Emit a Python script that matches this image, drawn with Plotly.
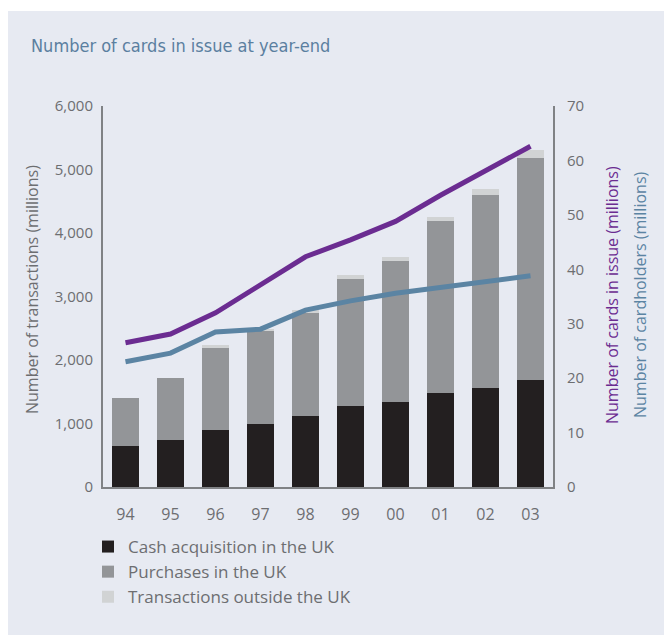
import plotly.graph_objects as go

# Year labels (two-digit)
years = ["94", "95", "96", "97", "98", "99", "00", "01", "02", "03"]

# Transactions, millions (stacked bars)
cash_uk = [640, 740, 900, 990, 1120, 1275, 1340, 1480, 1560, 1685]
purchases_uk = [760, 975, 1290, 1467, 1620, 2001, 2219, 2709, 3038, 3496]
outside_uk = [0, 0, 47, 35, 47, 63, 63, 63, 95, 126]

# Cards and cardholders, millions (right axis)
cards_in_issue = [26.5, 28.1, 32.0, 37.1, 42.3, 45.4, 48.8, 53.6, 58.2, 62.6]
cardholders = [23.0, 24.6, 28.5, 29.0, 32.5, 34.2, 35.6, 36.7, 37.8, 38.8]

left_ticks = [0, 1000, 2000, 3000, 4000, 5000, 6000]
right_ticks = [0, 10, 20, 30, 40, 50, 60, 70]

W, H = 664, 635
L, R, T, B = 103, 553, 106, 487  # plot area in pixels
PW, PH = R - L, B - T

def px(x):
    return (x - L) / PW

def py(y):
    return (B - y) / PH

GREY_TXT = "#6d6e71"
AXIS = "#808285"
PURPLE = "#6b2c91"
BLUE = "#5b84a3"
PANEL = "#e7eaf2"
FONT = "Open Sans"

fig = go.Figure()

fig.add_bar(x=years, y=cash_uk, name="Cash acquisition in the UK",
            marker=dict(color="#231f20", line=dict(width=0)), width=0.62)
fig.add_bar(x=years, y=purchases_uk, name="Purchases in the UK",
            marker=dict(color="#939598", line=dict(width=0)), width=0.62)
fig.add_bar(x=years, y=outside_uk, name="Transactions outside the UK",
            marker=dict(color="#d1d3d4", line=dict(width=0)), width=0.62)

fig.add_scatter(x=years, y=cardholders, yaxis="y2", mode="lines",
                line=dict(color=BLUE, width=5), showlegend=False,
                name="Number of cardholders")
fig.add_scatter(x=years, y=cards_in_issue, yaxis="y2", mode="lines",
                line=dict(color=PURPLE, width=5), showlegend=False,
                name="Number of cards in issue")

fig.update_layout(
    width=W, height=H,
    margin=dict(l=L, r=W - R, t=T, b=H - B, autoexpand=False),
    paper_bgcolor="white",
    plot_bgcolor="rgba(0,0,0,0)",
    barmode="stack",
    bargap=0.38,
    font=dict(family=FONT, color=GREY_TXT, size=15),
    xaxis=dict(
        type="category", range=[-0.5, 9.5],
        showline=True, linecolor=AXIS, linewidth=2,
        showgrid=False, zeroline=False, ticks="",
        ticklabelstandoff=12, tickfont=dict(size=16, color=GREY_TXT),
    ),
    yaxis=dict(
        range=[0, 6000], tickvals=left_ticks, tickformat=",",
        showline=True, linecolor=AXIS, linewidth=2,
        showgrid=False, zeroline=False, ticks="",
        ticklabelstandoff=5, tickfont=dict(size=15, color=GREY_TXT),
    ),
    yaxis2=dict(
        overlaying="y", side="right", range=[0, 70], tickvals=right_ticks,
        showline=True, linecolor=AXIS, linewidth=2,
        showgrid=False, zeroline=False, ticks="",
        ticklabelstandoff=9, tickfont=dict(size=15, color=GREY_TXT),
    ),
    legend=dict(
        x=px(88), y=py(529), xanchor="left", yanchor="top",
        traceorder="normal", bgcolor="rgba(0,0,0,0)",
        font=dict(size=17, color=GREY_TXT), tracegroupgap=0,
    ),
    showlegend=True,
    title=dict(
        text="Number of cards in issue at year-end",
        xref="container", yref="container",
        x=31 / W, y=1 - 46 / H, xanchor="left", yanchor="middle",
        font=dict(family="DejaVu Sans Condensed, DejaVu Sans", size=18,
                  color="#5b7fa0"),
    ),
)

# light panel behind the whole chart
fig.add_shape(type="rect", xref="paper", yref="paper", layer="below",
              x0=px(8), x1=px(W + 5), y0=py(H + 5), y1=py(11),
              fillcolor=PANEL, line=dict(width=0))

# axis titles
common = dict(xref="paper", yref="paper", showarrow=False, textangle=-90,
              xanchor="center", yanchor="middle")
fig.add_annotation(text="Number of transactions (millions)",
                   x=px(32), y=py(290),
                   font=dict(size=16, color=GREY_TXT), **common)
fig.add_annotation(text="Number of cards in issue (millions)",
                   x=px(612), y=py(295),
                   font=dict(size=16, color=PURPLE), **common)
fig.add_annotation(text="Number of cardholders (millions)",
                   x=px(640), y=py(295),
                   font=dict(size=16, color=BLUE), **common)

fig.write_html("out.html")
